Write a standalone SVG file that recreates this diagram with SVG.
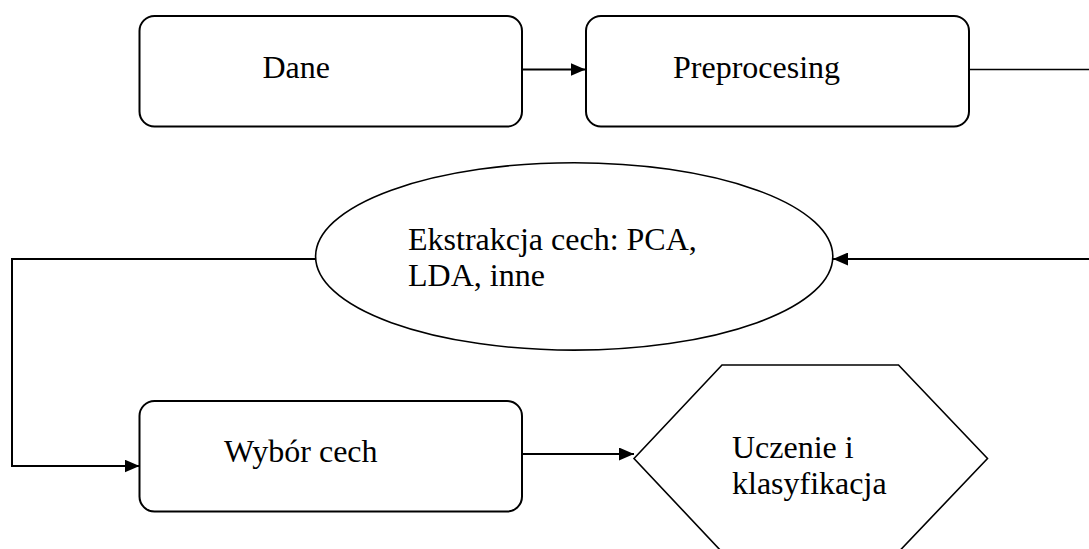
<svg xmlns="http://www.w3.org/2000/svg" width="1089" height="549" viewBox="0 0 1089 549">
<style>
  .box { fill: #ffffff; stroke: #000000; stroke-width: 2; }
  .shape { fill: #ffffff; stroke: #000000; stroke-width: 1.6; }
  .conn { fill: none; stroke: #000000; stroke-width: 2; }
  .lbl { font-family: "Liberation Serif", "Times New Roman", serif; font-size: 32px; fill: #000000; }
</style>
<defs>
  <marker id="arr" markerWidth="15" markerHeight="13" refX="15" refY="6.5" orient="auto" markerUnits="userSpaceOnUse">
    <path d="M0,0 L15,6.5 L0,13 Z" fill="#000000"/>
  </marker>
</defs>
<rect width="1089" height="549" fill="#ffffff"/>
<g id="connectors">
  <line class="conn" x1="522" y1="69.5" x2="585.5" y2="69.5" marker-end="url(#arr)"/>
  <line class="conn" x1="969" y1="69.5" x2="1089" y2="69.5" style="stroke-width:1.6"/>
  <line class="conn" x1="1089" y1="259" x2="833" y2="259" marker-end="url(#arr)"/>
  <polyline class="conn" points="315.6,259 12,259 12,466 139.5,466" marker-end="url(#arr)"/>
  <line class="conn" x1="522" y1="454" x2="634" y2="454" marker-end="url(#arr)"/>
</g>
<g id="node-dane">
  <rect class="box" x="139.5" y="16" width="382.5" height="110.5" rx="15" ry="15"/>
  <text class="lbl" x="262.5" y="77.5">Dane</text>
</g>
<g id="node-preprocesing">
  <rect class="box" x="586" y="16" width="383" height="110.5" rx="15" ry="15"/>
  <text class="lbl" x="673" y="77.5">Preprocesing</text>
</g>
<g id="node-ekstrakcja">
  <ellipse class="shape" cx="574.2" cy="256.4" rx="258.6" ry="93.7"/>
  <text class="lbl" x="408" y="250">Ekstrakcja cech: PCA,</text>
  <text class="lbl" x="408" y="285.5">LDA, inne</text>
</g>
<g id="node-wybor">
  <rect class="box" x="139.5" y="401" width="382.5" height="110.5" rx="15" ry="15"/>
  <text class="lbl" x="224" y="461.5">Wybór cech</text>
</g>
<g id="node-uczenie">
  <polygon class="shape" points="634,458.5 722,365 898.5,365 987.5,458.5 898.5,552 722,552"/>
  <text class="lbl" x="732" y="458">Uczenie i</text>
  <text class="lbl" x="732" y="494">klasyfikacja</text>
</g>
</svg>
